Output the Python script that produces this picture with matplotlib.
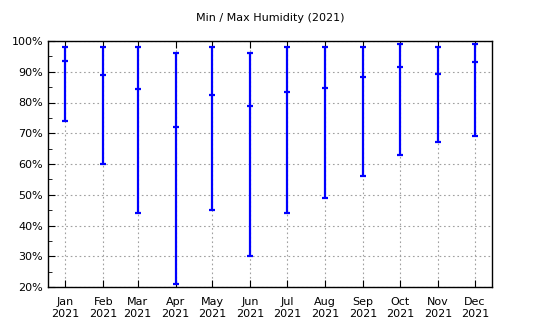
import datetime as dt
import matplotlib
matplotlib.use("Agg")
import matplotlib.pyplot as plt
from matplotlib.ticker import MultipleLocator, FuncFormatter

months = [dt.date(2021, m, 1) for m in range(1, 13)]
month_labels = ['Jan', 'Feb', 'Mar', 'Apr', 'May', 'Jun',
                'Jul', 'Aug', 'Sep', 'Oct', 'Nov', 'Dec']
hum_max = [98, 98, 98, 96, 98, 96, 98, 98, 98, 99, 98, 99]
hum_avg = [93.5, 89, 84.4, 72, 82.5, 78.9, 83.5, 84.8, 88.4, 91.6, 89.4, 93.2]
hum_min = [74, 60, 44, 21, 45, 30, 44, 49, 56, 63, 67, 69]

blue = '#0000ff'

fig = plt.figure(figsize=(5.4, 3.3), dpi=100)
ax = fig.add_axes([48 / 540, 43 / 330, 444 / 540, 246 / 330])

for d, lo, mid, hi in zip(months, hum_min, hum_avg, hum_max):
    ax.plot([d, d], [lo, hi], color=blue, lw=1.6, solid_capstyle='butt')
    ax.plot([d, d, d], [lo, mid, hi], ls='none', marker='_', ms=5,
            mew=1.6, color=blue)

ax.set_ylim(20, 100)
ax.set_xlim(dt.date(2020, 12, 18), dt.date(2021, 12, 15))
ax.yaxis.set_major_locator(MultipleLocator(10))
ax.yaxis.set_minor_locator(MultipleLocator(5))
ax.yaxis.set_major_formatter(FuncFormatter(lambda v, p: f'{v:.0f}%'))

ax.set_xticks(months)
ax.set_xticklabels([f'{m}\n2021' for m in month_labels])

ax.tick_params(axis='both', which='both', direction='in', labelsize=8)
ax.tick_params(axis='x', top=True, length=5, pad=7)
ax.tick_params(axis='y', which='major', length=5)
ax.tick_params(axis='y', which='minor', length=3)
for lab in ax.get_xticklabels():
    lab.set_linespacing(1.25)

ax.grid(True, which='major', color='#a0a0a0', ls=(0, (1.5, 2.5)), lw=0.8)
ax.set_axisbelow(True)
for s in ax.spines.values():
    s.set_linewidth(1.0)

fig.text(0.5, 1 - 18 / 330, 'Min / Max Humidity (2021)', ha='center',
         va='center', fontsize=8)

fig.savefig('out.png', dpi=100)
